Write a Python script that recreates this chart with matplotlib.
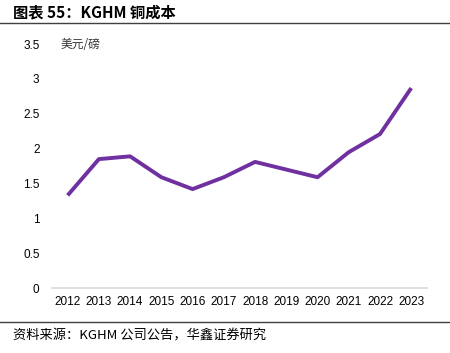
import matplotlib
matplotlib.use("Agg")
import matplotlib.pyplot as plt
from matplotlib.lines import Line2D

plt.rcParams['font.family'] = ['Noto Sans CJK SC', 'DejaVu Sans']

years = ['2012', '2013', '2014', '2015', '2016', '2017',
         '2018', '2019', '2020', '2021', '2022', '2023']
cost = [1.33, 1.85, 1.89, 1.59, 1.42, 1.59, 1.81, 1.70, 1.59, 1.95, 2.21, 2.87]
yticks = [0, 0.5, 1, 1.5, 2, 2.5, 3, 3.5]

fig = plt.figure(figsize=(4.5, 3.53), dpi=100)
ax = fig.add_axes([0.1156, 0.184, 0.833, 0.691])

x = list(range(len(years)))
ax.plot(x, cost, color='#7030A0', linewidth=2.8, solid_capstyle='butt')

ax.set_xlim(-0.5, len(years) - 0.5)
ax.set_ylim(0, 3.5)
ax.set_xticks(x)
ax.set_xticklabels(years, fontsize=8.5, family='Liberation Sans')
ax.set_yticks(yticks)
ax.set_yticklabels([f'{v:g}' for v in yticks], fontsize=8.5, family='Liberation Sans')
ax.tick_params(axis='both', length=0, pad=6, colors='#000000')
ax.tick_params(axis='y', pad=9)

for s in ['top', 'right', 'left']:
    ax.spines[s].set_visible(False)
ax.spines['bottom'].set_color('#D9D9D9')
ax.spines['bottom'].set_linewidth(1.2)

ax.text(0.022, 1.0, '美元/磅', transform=ax.transAxes, fontsize=8.5,
        va='center', ha='left', color='#333333')

# header and footer
fig.text(13 / 450, 1 - 12 / 353, '图表 55：KGHM 铜成本', fontsize=11,
         fontweight='bold', va='center', ha='left')
fig.add_artist(Line2D([0, 1], [1 - 23 / 353, 1 - 23 / 353], color='#404040', linewidth=1))
fig.add_artist(Line2D([0, 1], [1 - 322 / 353, 1 - 322 / 353], color='#404040', linewidth=1))
fig.text(13 / 450, 1 - 336 / 353, '资料来源：KGHM 公司公告，华鑫证券研究', fontsize=9.5,
         va='center', ha='left')

fig.savefig('out.png', dpi=100)
